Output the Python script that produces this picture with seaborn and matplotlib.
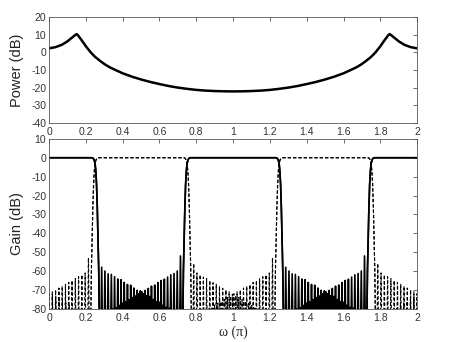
import numpy as np
import pandas as pd
import seaborn as sns
import matplotlib.pyplot as plt

sns.set_theme(style="white")
plt.rcParams['font.family'] = ['Liberation Sans', 'DejaVu Sans']

# ---------------- data ----------------
# top panel: power spectrum (dB) vs normalized frequency (x pi)
power_w = [0, 0.035, 0.069, 0.1, 0.125, 0.14, 0.15, 0.158, 0.165, 0.178, 0.2, 0.225, 0.25,
           0.28, 0.304, 0.33, 0.36, 0.4, 0.45, 0.5, 0.55, 0.6, 0.65, 0.7, 0.75, 0.8, 0.85,
           0.9, 0.95, 1.0,
           1.05, 1.1, 1.15, 1.2, 1.25, 1.3, 1.35, 1.4, 1.45, 1.5, 1.55, 1.6, 1.64, 1.67,
           1.696, 1.72, 1.75, 1.775, 1.8, 1.822, 1.835, 1.842, 1.85, 1.86, 1.875, 1.9,
           1.931, 1.965, 2.0]
power_db = [2.3, 3.0, 4.3, 6.3, 8.4, 9.7, 10.4, 9.6, 8.6, 6.8, 3.5, 0.2, -2.5,
            -5.0, -6.8, -8.4, -9.9, -11.8, -13.7, -15.3, -16.7, -17.9, -19.0, -19.9, -20.6, -21.2, -21.6,
            -21.85, -22.0, -22.05,
            -22.0, -21.85, -21.6, -21.2, -20.6, -19.9, -19.0, -17.9, -16.7, -15.3, -13.7, -11.8, -9.9, -8.4,
            -6.8, -5.0, -2.5, 0.2, 3.5, 6.8, 8.6, 9.6, 10.4, 9.7, 8.4, 6.3,
            4.3, 3.0, 2.3]

# transition band shape (offset from band edge, gain in dB)
edge_offset = [-0.018, -0.01, -0.005, 0.0, 0.004, 0.008, 0.012, 0.016, 0.02, 0.025]
edge_db = [0, -0.3, -1.2, -3, -7, -14, -26, -42, -60, -100]

# stopband side-lobe peaks (dB)
solid_dec = [-58, -60, -61.5, -61.8, -63, -64.2, -64.6, -66, -67.1, -67.5, -69, -70.2, -70.5,
             -72, -73.1, -73.4, -75, -76.2, -76.5, -78, -79.1, -79.6, -81, -82, -84]
solid_inc = [-84, -82.5, -81.6, -80, -79.4, -78.2, -77, -76.3, -75.1, -74, -73.2, -72.1, -71,
             -70.3, -69.2, -68, -67.4, -66.1, -65, -64.3, -63.2, -62, -61.3, -60, -52]
dash_dec = [-56, -61, -62, -63.2, -64, -65, -66.2, -67, -68, -69.1, -70, -71, -72.2, -73,
            -74, -75.1, -76, -77, -78.2, -79, -80, -81.1, -82, -83, -84]
dash_inc = [-84, -83, -82.1, -81, -80, -79.2, -78, -77, -76.1, -75, -74, -73.2, -72, -71,
            -70.1, -69, -68, -67.2, -66, -65, -64.1, -63, -62, -61, -53]
dash_dec_end = [-56, -61, -62, -63, -64, -65, -66, -67, -68, -69, -70, -71, -72]
dash_dec_start = [-72, -73, -74, -75, -76, -77, -78, -79, -80, -81, -82, -84]
dash_inc_start = [-72, -71, -70, -69, -68, -67, -66, -65, -64, -63, -62, -61, -53]
dash_inc_end = [-84, -83, -82, -81, -80, -79, -78, -77, -76, -75, -74, -72]

NULL = -130


def lobes(x0, x1, peaks):
    xs = np.linspace(x0, x1, len(peaks))
    step = xs[1] - xs[0]
    ox, oy = [], []
    for x, p in zip(xs, peaks):
        ox += [x - step / 2, x]
        oy += [NULL, p]
    ox.append(xs[-1] + step / 2)
    oy.append(NULL)
    return ox, oy


def fall(c):
    return [c + d for d in edge_offset], list(edge_db)


def rise(c):
    return [c - d for d in edge_offset[::-1]], list(edge_db[::-1])


def join(*segs):
    X, Y = [], []
    for sx, sy in segs:
        X += list(sx)
        Y += list(sy)
    return X, Y


s1 = join(([0.0], [0.0]), fall(0.25), lobes(0.286, 0.706, solid_dec), rise(0.75),
          fall(1.25), lobes(1.286, 1.706, solid_dec), rise(1.75), ([2.0], [0.0]))
s2 = join(([0.0], [0.0]), fall(0.25), lobes(0.294, 0.714, solid_inc), rise(0.75),
          fall(1.25), lobes(1.294, 1.714, solid_inc), rise(1.75), ([2.0], [0.0]))
d1 = join(lobes(0.0, 0.2, dash_dec_start), rise(0.25), fall(0.75),
          lobes(0.786, 1.206, dash_dec), rise(1.25), fall(1.75),
          lobes(1.786, 2.0, dash_dec_end))
d2 = join(lobes(0.0, 0.214, dash_inc_start), rise(0.25), fall(0.75),
          lobes(0.794, 1.214, dash_inc), rise(1.25), fall(1.75),
          lobes(1.8, 2.0, dash_inc_end))

xticks = [0, 0.2, 0.4, 0.6, 0.8, 1.0, 1.2, 1.4, 1.6, 1.8, 2.0]
xticklabels = ['0', '0.2', '0.4', '0.6', '0.8', '1', '1.2', '1.4', '1.6', '1.8', '2']
top_yticks = [-40, -30, -20, -10, 0, 10, 20]
bot_yticks = [-80, -70, -60, -50, -40, -30, -20, -10, 0, 10]

# ---------------- plot ----------------
fig = plt.figure(figsize=(4.5, 3.42), dpi=100)
ax1 = fig.add_axes([0.109, 0.640, 0.818, 0.310])
ax2 = fig.add_axes([0.109, 0.097, 0.818, 0.497])

sns.lineplot(x=power_w, y=power_db, ax=ax1, color='black', lw=1.8,
             sort=False, estimator=None)

for (xs, ys), ls, lw in [(d1, '--', 0.8), (d2, '--', 0.8), (s1, '-', 1.2), (s2, '-', 1.2)]:
    sns.lineplot(x=xs, y=ys, ax=ax2, color='black', lw=lw, linestyle=ls,
                 sort=False, estimator=None)
for ax in (ax1, ax2):
    for line in ax.lines:
        if line.get_linestyle() == '--':
            line.set_dashes((3, 1.8))

ax1.set_xlim(0, 2)
ax1.set_ylim(-40, 20)
ax2.set_xlim(0, 2)
ax2.set_ylim(-80, 10)

for ax, yt in [(ax1, top_yticks), (ax2, bot_yticks)]:
    ax.set_xticks(xticks)
    ax.set_xticklabels(xticklabels)
    ax.set_yticks(yt)
    ax.set_yticklabels([str(v) for v in yt])
    ax.tick_params(direction='in', top=True, right=True, length=3, width=0.5,
                   labelsize=7.5, pad=2, colors='#333333', labelcolor='#333333')
    ax.tick_params(axis='x', pad=3)
    for sp in ax.spines.values():
        sp.set_color('#555555')
        sp.set_linewidth(0.6)

ax1.set_ylabel('Power (dB)', fontsize=10.5, color='#222222', labelpad=5)
ax2.set_ylabel('Gain (dB)', fontsize=10.5, color='#222222', labelpad=5)
ax2.set_xlabel('ω (π)', fontsize=10, color='#222222', labelpad=2,
               family=['Liberation Serif', 'DejaVu Serif'])
ax1.set_xlabel('')

fig.savefig('out.png', dpi=100, facecolor='white')
